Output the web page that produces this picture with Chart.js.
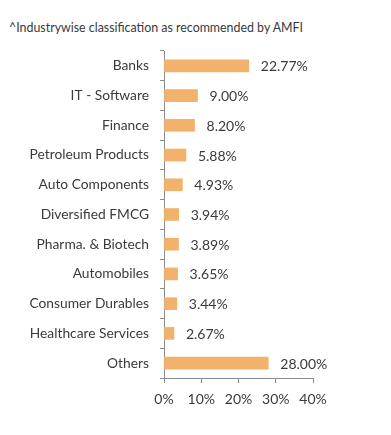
<!DOCTYPE html>
<html>
<head>
<meta charset="utf-8">
<script src="https://cdn.jsdelivr.net/npm/chart.js@4"></script>
<style>
  body { margin: 0; background: #fff; }
  #wrap { position: relative; width: 391px; height: 435px; }
  #note {
    position: absolute; left: 9px; top: 20px;
    font: 400 12.4px Lato, sans-serif; color: #3a3a3a; white-space: nowrap;
  }
  canvas { position: absolute; left: 0; top: 0; }
</style>
</head>
<body>
<div id="wrap">
  <div id="note">^Industrywise classification as recommended by AMFI</div>
  <canvas id="chart" width="391" height="435"></canvas>
</div>
<script>
const sectors = [
  "Banks", "IT - Software", "Finance", "Petroleum Products", "Auto Components",
  "Diversified FMCG", "Pharma. & Biotech", "Automobiles", "Consumer Durables",
  "Healthcare Services", "Others",
];
const weights = [22.77, 9.00, 8.20, 5.88, 4.93, 3.94, 3.89, 3.65, 3.44, 2.67, 28.00];
const xTicks = [0, 10, 20, 30, 40];

const FONT = "Lato, sans-serif";
const TEXT = "#3a3a3a";
const AXIS = "#8c8c8c";

const valueLabels = {
  id: "valueLabels",
  afterDatasetsDraw(chart) {
    const { ctx } = chart;
    const meta = chart.getDatasetMeta(0);
    ctx.save();
    ctx.font = `400 14px ${FONT}`;
    ctx.fillStyle = TEXT;
    ctx.textAlign = "left";
    ctx.textBaseline = "middle";
    meta.data.forEach((bar, i) => {
      ctx.fillText(`${weights[i].toFixed(2)}%`, bar.x + 12, bar.y + 1);
    });
    ctx.restore();
  },
};

new Chart(document.getElementById("chart"), {
  type: "bar",
  data: {
    labels: sectors,
    datasets: [{
      data: weights,
      backgroundColor: "#F2B26B",
      barThickness: 12,
      borderWidth: 0,
    }],
  },
  options: {
    indexAxis: "y",
    responsive: false,
    animation: false,
    layout: { padding: { top: 51, right: 78, bottom: 0, left: 0 } },
    plugins: { legend: { display: false }, tooltip: { enabled: false } },
    scales: {
      x: {
        min: 0,
        max: 40,
        afterFit: (s) => { s.height = 57; },
        afterBuildTicks: (s) => { s.ticks = xTicks.map((v) => ({ value: v })); },
        grid: { drawOnChartArea: false, tickLength: 5, color: AXIS },
        border: { color: AXIS },
        ticks: {
          padding: 8,
          color: TEXT,
          font: { family: FONT, size: 14, weight: 400 },
          callback: (v) => `${v}%`,
        },
      },
      y: {
        afterFit: (s) => { s.width = 164; },
        grid: { drawOnChartArea: false, tickLength: 4, color: AXIS, offset: true },
        border: { color: AXIS },
        ticks: {
          padding: 11,
          color: TEXT,
          font: { family: FONT, size: 13.8, weight: 400 },
        },
      },
    },
  },
  plugins: [valueLabels],
});
</script>
</body>
</html>
